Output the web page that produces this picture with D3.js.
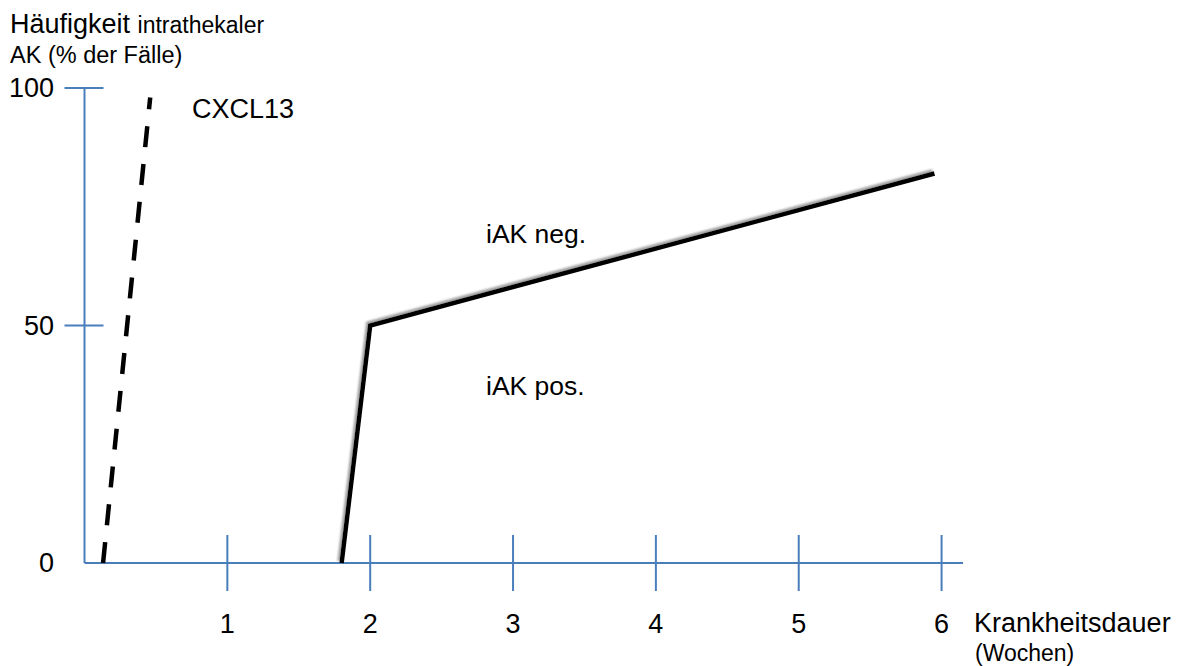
<!DOCTYPE html>
<html>
<head>
<meta charset="utf-8">
<script src="https://cdn.jsdelivr.net/npm/d3@7"></script>
<style>
  body { margin: 0; background: #fff; }
  text { font-family: "Liberation Sans", Arial, sans-serif; fill: #000; }
</style>
</head>
<body>
<div class="canvas"></div>
<script>
// data
const xTicks = [1, 2, 3, 4, 5, 6];
const yTicks = [50, 100];
const yLabels = [0, 50, 100];
const iakX = [1.8, 2, 5.95];
const iakY = [0, 50, 82];
const cxclX = [0.13, 0.46];
const cxclY = [0, 98];

const dims = { width: 1177, height: 666 };
const axisColor = "#4a7ebb";

const svg = d3
  .select(".canvas")
  .append("svg")
  .attr("width", dims.width)
  .attr("height", dims.height);

const x = d3.scaleLinear().domain([0, 6.15]).range([84.5, 963]);
const y = d3.scaleLinear().domain([0, 100]).range([563, 88]);

// soft grey shadow up-left of the lines
const filter = svg
  .append("defs")
  .append("filter")
  .attr("id", "shadow")
  .attr("x", "-20%")
  .attr("y", "-20%")
  .attr("width", "140%")
  .attr("height", "140%");

filter
  .append("feDropShadow")
  .attr("dx", -2)
  .attr("dy", -2)
  .attr("stdDeviation", 1.2)
  .attr("flood-color", "#888")
  .attr("flood-opacity", 0.8);

// axes
const axes = svg.append("g").attr("stroke", axisColor).attr("stroke-width", 2);

axes
  .append("line")
  .attr("x1", x(0))
  .attr("x2", x(0))
  .attr("y1", y(0))
  .attr("y2", y(100));

axes
  .append("line")
  .attr("x1", x(0))
  .attr("x2", x.range()[1])
  .attr("y1", y(0))
  .attr("y2", y(0));

axes
  .selectAll(".ytick")
  .data(yTicks)
  .enter()
  .append("line")
  .attr("x1", x(0) - 20)
  .attr("x2", x(0) + 19)
  .attr("y1", (d) => y(d))
  .attr("y2", (d) => y(d));

axes
  .selectAll(".xtick")
  .data(xTicks)
  .enter()
  .append("line")
  .attr("x1", (d) => x(d))
  .attr("x2", (d) => x(d))
  .attr("y1", y(0) - 28)
  .attr("y2", y(0) + 28);

// tick labels
svg
  .selectAll(".ylabel")
  .data(yLabels)
  .enter()
  .append("text")
  .attr("x", 54)
  .attr("y", (d) => y(d) + 9)
  .attr("text-anchor", "end")
  .attr("font-size", 27)
  .text((d) => d);

svg
  .selectAll(".xlabel")
  .data(xTicks)
  .enter()
  .append("text")
  .attr("x", (d) => x(d))
  .attr("y", 633)
  .attr("text-anchor", "middle")
  .attr("font-size", 27)
  .text((d) => d);

// axis titles
const yTitle = svg.append("text").attr("x", 10).attr("y", 33);
yTitle.append("tspan").attr("font-size", 27).text("Häufigkeit ");
yTitle.append("tspan").attr("font-size", 23).text("intrathekaler");

svg
  .append("text")
  .attr("x", 10)
  .attr("y", 63)
  .attr("font-size", 23.5)
  .text("AK (% der Fälle)");

svg
  .append("text")
  .attr("x", 974)
  .attr("y", 632)
  .attr("font-size", 27)
  .text("Krankheitsdauer");

svg
  .append("text")
  .attr("x", 975)
  .attr("y", 661)
  .attr("font-size", 23)
  .text("(Wochen)");

// lines
const line = d3
  .line()
  .x((d) => x(d[0]))
  .y((d) => y(d[1]));

svg
  .append("path")
  .attr("d", line(d3.zip(iakX, iakY)))
  .attr("fill", "none")
  .attr("stroke", "#000")
  .attr("stroke-width", 4.5)
  .attr("stroke-linejoin", "miter")
  .attr("filter", "url(#shadow)");

svg
  .append("path")
  .attr("d", line(d3.zip(cxclX, cxclY)))
  .attr("fill", "none")
  .attr("stroke", "#000")
  .attr("stroke-width", 4.5)
  .attr("stroke-dasharray", "21,17");

// line labels
svg
  .append("text")
  .attr("x", 192)
  .attr("y", 118)
  .attr("font-size", 27)
  .text("CXCL13");

svg
  .append("text")
  .attr("x", 486)
  .attr("y", 243)
  .attr("font-size", 26.5)
  .text("iAK neg.");

svg
  .append("text")
  .attr("x", 486)
  .attr("y", 395)
  .attr("font-size", 26.5)
  .text("iAK pos.");
</script>
</body>
</html>
